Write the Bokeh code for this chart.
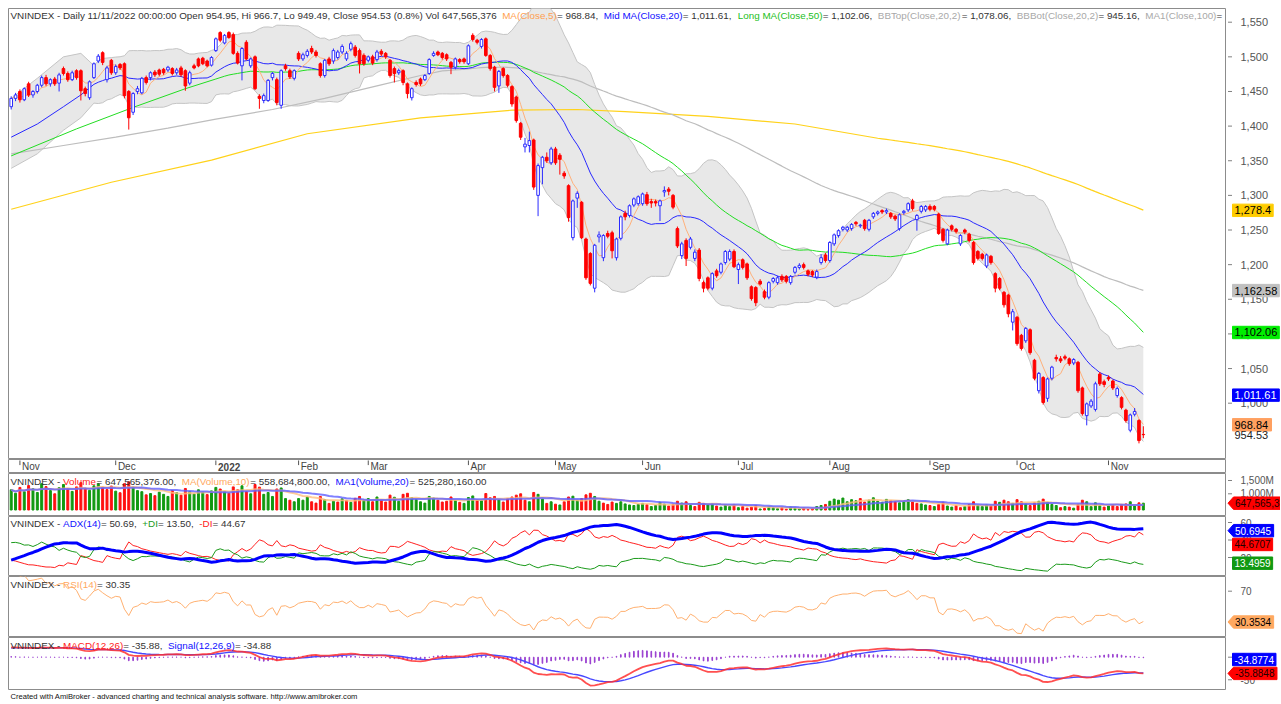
import numpy as np
import pandas as pd
from bokeh.plotting import figure
from bokeh.models import Range1d, Label
from bokeh.layouts import column, row
from bokeh.embed import file_html
from bokeh.resources import INLINE
from bokeh.core.properties import value

FONT = "Liberation Sans"

# ---------------- data ----------------
holidays = ["2022-01-03", "2022-01-31", "2022-02-01", "2022-02-02", "2022-02-03",
            "2022-02-04", "2022-04-11", "2022-05-02", "2022-05-03", "2022-09-01", "2022-09-02"]

opens = [1428,1440,1450,1438,1461,1445,1450,1459,1470,1461,1468,1462,1483,1476,1467,1480,1480,1454,1441,1470,
         1494,1506,1467,1495,1477,1489,1490,1450,1420,1450,1448,1470,1470,1478,1481,1482,1481,1483,1477,1484,
         1480,1462,1487,1497,1498,1494,1488,1509,1535,1520,1535,1532,1505,1487,1521,1487,1500,1443,1437,1437,
         1470,1467,1430,1487,1480,1469,1505,1497,1502,1512,1507,1490,1473,1497,1494,1499,1507,1497,1511,1514,
         1509,1502,1495,1500,1496,1508,1505,1495,1483,1477,1480,1461,1441,1463,1468,1467,1476,1502,1507,1505,
         1503,1492,1485,1496,1497,1490,1531,1524,1515,1526,1502,1485,1458,1483,1473,1457,1442,1404,1370,1372,
         1380,1300,1340,1355,1347,1367,1358,1332,1314,1239,1296,1290,1237,1216,1166,1240,1210,1245,1246,1210,
         1238,1274,1271,1286,1288,1288,1301,1291,1291,1285,1305,1309,1300,1252,1213,1235,1225,1209,1221,1174,
         1181,1166,1191,1189,1203,1208,1219,1193,1207,1201,1168,1167,1176,1161,1153,1176,1174,1183,1183,1174,
         1189,1196,1200,1191,1190,1182,1203,1214,1206,1230,1242,1251,1250,1252,1261,1256,1264,1251,1269,1274,
         1278,1276,1274,1270,1252,1275,1279,1292,1265,1277,1279,1284,1284,1273,1251,1230,1256,1251,1230,1250,
         1244,1232,1219,1215,1198,1212,1187,1180,1160,1156,1117,1124,1098,1090,1106,1062,1018,1037,1007,1036,
         1066,1064,1067,1064,1058,1059,1022,982,996,991,1042,1031,1037,1032,1011,1008,990,961,984,975,954.95]
highs = [1443,1448,1453,1456,1464,1452,1461,1473,1474,1469,1471,1477,1486,1479,1480,1482,1482,1457,1466,1492,
         1504,1508,1487,1497,1489,1491,1492,1452,1449,1458,1471,1473,1479,1481,1483,1484,1487,1485,1484,1487,
         1482,1480,1490,1499,1500,1496,1501,1528,1537,1533,1537,1535,1508,1514,1524,1499,1502,1446,1447,1468,
         1478,1470,1482,1490,1483,1482,1508,1506,1511,1516,1510,1492,1497,1500,1512,1510,1518,1508,1522,1517,
         1512,1505,1502,1503,1510,1511,1507,1497,1486,1483,1482,1463,1456,1466,1470,1475,1498,1508,1509,1507,
         1505,1494,1499,1498,1499,1518,1534,1526,1527,1528,1504,1487,1481,1485,1475,1459,1444,1406,1383,1392,
         1382,1346,1357,1362,1370,1370,1361,1335,1316,1294,1306,1292,1239,1218,1230,1248,1244,1249,1249,1239,
         1271,1278,1287,1297,1300,1304,1305,1295,1294,1294,1313,1312,1302,1255,1233,1238,1240,1222,1224,1177,
         1183,1189,1194,1203,1221,1222,1222,1203,1209,1203,1170,1169,1179,1164,1176,1182,1184,1186,1185,1185,
         1198,1202,1203,1193,1192,1193,1215,1217,1234,1245,1251,1256,1256,1260,1263,1259,1266,1266,1276,1278,
         1280,1281,1276,1272,1274,1279,1290,1295,1273,1286,1286,1287,1286,1275,1253,1252,1258,1253,1244,1252,
         1246,1234,1221,1217,1216,1214,1189,1182,1162,1158,1136,1126,1100,1110,1108,1064,1045,1039,1037,1054,
         1070,1068,1070,1066,1065,1061,1024,1001,1006,1031,1045,1034,1040,1034,1024,1010,992,985,993,977,966.7]
lows = [1424,1436,1434,1436,1442,1441,1447,1456,1458,1457,1458,1450,1473,1464,1465,1467,1437,1443,1438,1468,
        1491,1488,1463,1474,1474,1481,1440,1395,1416,1446,1446,1460,1466,1471,1472,1474,1478,1473,1474,1471,
        1451,1459,1482,1485,1488,1485,1486,1507,1521,1518,1526,1503,1489,1466,1495,1484,1452,1425,1433,1435,
        1466,1430,1425,1480,1468,1466,1494,1494,1499,1504,1499,1470,1470,1487,1490,1496,1504,1494,1508,1499,
        1476,1487,1492,1488,1493,1501,1497,1470,1463,1474,1459,1440,1437,1457,1458,1465,1474,1500,1501,1496,
        1494,1475,1482,1490,1490,1488,1522,1518,1512,1500,1480,1450,1448,1470,1456,1428,1405,1380,1362,1362,
        1308,1270,1316,1347,1344,1344,1330,1324,1262,1235,1282,1237,1178,1170,1160,1232,1205,1238,1209,1206,
        1235,1264,1268,1283,1285,1285,1285,1282,1284,1263,1298,1300,1280,1224,1208,1198,1222,1205,1176,1160,
        1163,1163,1181,1186,1200,1205,1195,1172,1193,1178,1148,1140,1170,1150,1150,1173,1171,1175,1173,1171,
        1186,1193,1193,1183,1182,1179,1200,1203,1203,1227,1239,1248,1247,1249,1256,1253,1249,1248,1266,1271,
        1273,1273,1266,1263,1249,1272,1276,1278,1249,1274,1276,1277,1277,1243,1232,1228,1248,1245,1227,1244,
        1232,1200,1206,1206,1195,1200,1160,1163,1138,1124,1105,1083,1076,1087,1070,1033,1014,998,1002,1033,
        1060,1058,1062,1054,1055,1015,982,968,993,988,1025,1023,1032,1019,1008,991,972,958,981,942,949.49]
closes = [1440,1445,1438,1454,1445,1450,1459,1470,1461,1467,1461,1474,1476,1467,1477,1470,1451,1447,1464,1490,
          1501,1492,1484,1477,1486,1484,1444,1412,1447,1454,1469,1463,1477,1474,1475,1477,1485,1476,1481,1474,
          1458,1477,1484,1487,1490,1487,1499,1526,1524,1531,1528,1505,1491,1512,1497,1497,1454,1440,1444,1466,
          1476,1434,1480,1483,1471,1480,1497,1503,1508,1507,1502,1473,1495,1490,1509,1507,1515,1505,1519,1502,
          1490,1490,1500,1491,1507,1504,1500,1473,1476,1480,1463,1447,1454,1460,1461,1473,1496,1505,1503,1499,
          1497,1485,1497,1493,1493,1516,1525,1521,1525,1502,1483,1456,1479,1473,1459,1432,1408,1384,1374,1379,
          1312,1343,1355,1350,1367,1347,1352,1328,1268,1292,1303,1239,1181,1173,1228,1243,1242,1241,1220,1237,
          1269,1269,1285,1295,1298,1302,1288,1289,1289,1292,1307,1306,1283,1227,1230,1209,1237,1218,1180,1166,
          1166,1187,1184,1201,1219,1219,1197,1200,1196,1181,1151,1145,1172,1153,1174,1180,1181,1178,1176,1183,
          1196,1199,1196,1186,1185,1190,1210,1206,1232,1243,1249,1254,1254,1258,1259,1257,1252,1264,1274,1276,
          1276,1278,1269,1266,1272,1277,1288,1281,1271,1284,1284,1280,1280,1245,1235,1250,1251,1248,1242,1247,
          1235,1203,1209,1209,1214,1203,1166,1166,1142,1129,1132,1086,1079,1108,1073,1036,1043,1001,1035,1052,
          1064,1061,1065,1057,1063,1018,985,999,1003,1028,1028,1027,1035,1022,1021,994,975,983,988,946,954.53]
volumes_m = [1150,1020,1240,1080,1310,1190,1050,1380,1270,1120,1000,1230,1350,1180,1090,1260,1420,1210,1130,1300,
             1380,1250,1160,1290,1100,1040,1380,1450,1250,1120,1080,960,1010,930,1060,980,900,1120,1040,950,
             1200,1080,990,1150,1060,970,1110,1240,1180,1090,1020,1260,1150,1300,1080,1000,1350,1250,980,1050,
             900,1180,1220,820,760,700,820,760,880,700,650,900,780,640,720,690,810,750,680,830,
             900,760,820,700,880,760,690,950,870,720,980,1020,860,780,700,650,900,840,760,690,
             720,880,750,680,640,860,920,780,740,1010,850,900,770,690,820,880,950,1000,760,700,
             1050,980,800,640,700,610,580,700,880,910,760,820,960,1020,900,720,650,600,690,640,
             700,620,580,560,600,640,590,520,560,680,610,540,600,720,650,700,560,520,680,640,
             590,620,540,500,560,520,600,480,520,460,500,560,430,450,520,470,440,480,420,500,
             460,430,470,410,450,520,560,600,720,800,760,840,700,780,740,820,690,760,850,720,
             680,790,740,700,660,720,780,690,640,620,580,560,520,600,680,540,500,560,480,520,
             600,700,560,520,580,540,720,680,760,700,640,780,700,620,560,660,720,800,680,600,
             560,480,520,500,460,600,760,700,520,660,560,500,540,580,520,600,620,700,540,660,647.565376]

ma20_early_idx = [0, 6, 12, 16]
ma20_early = [1384, 1403, 1428, 1445]
bbtop_early = [1440, 1469, 1500, 1505]
bbbot_early = [1339, 1360, 1394, 1412]
ma50_early_idx = [0, 15, 28, 40, 47]
ma50_early = [1357, 1396, 1427, 1454, 1468]
ma100_early_idx = [0, 12, 24, 36, 47, 60, 72, 84, 94]
ma100_early = [1360, 1372, 1384, 1397, 1410, 1424, 1440, 1458, 1473]
ma200_early_idx = [0, 23, 46, 68, 94, 115, 130, 141, 160, 180]
ma200_early = [1280, 1319, 1351, 1389, 1412, 1423, 1424, 1421, 1414, 1403]
# indicator state at the first bar
adx_start = {"atr": 14.0, "pdi": 37.0, "ndi": 17.0, "adx": 17.0}
rsi_start = {"gain": 7.5, "loss": 0.4}
macd_start = {"ema12": 1422.0, "ema26": 1400.0, "signal": 20.0}

price_ticks = [1000, 1050, 1100, 1150, 1200, 1250, 1300, 1350, 1400, 1450, 1500, 1550]
month_names = {1: "2022", 2: "Feb", 3: "Mar", 4: "Apr", 5: "May", 6: "Jun", 7: "Jul",
               8: "Aug", 9: "Sep", 10: "Oct", 11: "Nov", 12: "Dec"}

# ---------------- derived series ----------------
dates = pd.bdate_range("2021-10-28", "2022-11-11")
dates = dates[~dates.isin(pd.to_datetime(holidays))]
n = len(closes)
idx = np.arange(n)
O = np.array(opens, float); H = np.array(highs, float)
L = np.array(lows, float); C = np.array(closes, float)
V = np.array(volumes_m, float) * 1e6
cs = pd.Series(C)

ma5 = cs.rolling(5, min_periods=1).mean().values
ma20c = cs.rolling(20).mean().values
sd20 = cs.rolling(20).std(ddof=0).values


def hybrid(early_idx, early_vals, window):
    comp = cs.rolling(window).mean().values
    xs = list(early_idx) + list(range(window - 1, n))
    ys = list(early_vals) + list(comp[window - 1:])
    return xs, ys


ma20_x, ma20_y = hybrid(ma20_early_idx, ma20_early, 20)
bb_x = list(ma20_early_idx) + list(range(19, n))
bbt_y = list(bbtop_early) + list((ma20c + 2 * sd20)[19:])
bbb_y = list(bbbot_early) + list((ma20c - 2 * sd20)[19:])
ma50_x, ma50_y = hybrid(ma50_early_idx, ma50_early, 50)
ma100_x, ma100_y = hybrid(ma100_early_idx, ma100_early, 100)
ma200_x, ma200_y = hybrid(ma200_early_idx, ma200_early, 200)

vs = pd.Series(V)
vma10 = vs.rolling(10, min_periods=1).mean().values
vma20 = vs.rolling(20, min_periods=1).mean().values
prevc = np.concatenate([[O[0]], C[:-1]])
vol_up = C >= prevc

# Wilder ADX / DI, seeded with the state read at the first bar
k = 1.0 / 14
atr = adx_start["atr"]
spdm = adx_start["pdi"] / 100 * atr
sndm = adx_start["ndi"] / 100 * atr
ax_ = adx_start["adx"]
pdi = np.zeros(n); ndi = np.zeros(n); adx = np.zeros(n)
for t in range(n):
    if t > 0:
        trv = max(H[t] - L[t], abs(H[t] - C[t - 1]), abs(L[t] - C[t - 1]))
        um, dm = H[t] - H[t - 1], L[t - 1] - L[t]
        pv = um if (um > dm and um > 0) else 0.0
        nv = dm if (dm > um and dm > 0) else 0.0
        atr += k * (trv - atr); spdm += k * (pv - spdm); sndm += k * (nv - sndm)
    pdi[t] = 100 * spdm / atr
    ndi[t] = 100 * sndm / atr
    dxv = 100 * abs(pdi[t] - ndi[t]) / max(pdi[t] + ndi[t], 1e-9)
    if t > 0:
        ax_ += k * (dxv - ax_)
    adx[t] = ax_

# Wilder RSI, seeded
ag, al = rsi_start["gain"], rsi_start["loss"]
rsi = np.zeros(n)
for t in range(n):
    if t > 0:
        ch = C[t] - C[t - 1]
        ag += k * (max(ch, 0) - ag); al += k * (max(-ch, 0) - al)
    rsi[t] = 100 - 100 / (1 + ag / al)

# MACD, seeded
e12, e26, sg = macd_start["ema12"], macd_start["ema26"], macd_start["signal"]
macd = np.zeros(n); sig = np.zeros(n)
for t in range(n):
    e12 += 2 / 13 * (C[t] - e12); e26 += 2 / 27 * (C[t] - e26)
    m = e12 - e26
    sg += 0.2 * (m - sg)
    macd[t], sig[t] = m, sg
hist = macd - sig

# ---------------- layout ----------------
FW = 1218          # plot frame width (x 8 .. 1226)
SW = 54            # right value strip (x 1226 .. 1280)
X0, X1 = -0.62, 279.1
xr = Range1d(X0, X1)
FS = 9.86

AW = {' ': 278, '(': 333, ')': 333, ',': 278, '-': 333, '.': 278, '/': 278, ':': 278, '=': 584,
      '+': 584, '%': 889, 'A': 667, 'B': 667, 'C': 722, 'D': 722, 'E': 667, 'F': 611, 'G': 778,
      'H': 722, 'I': 278, 'L': 556, 'M': 833, 'N': 722, 'O': 778, 'P': 667, 'R': 722, 'S': 667,
      'T': 611, 'V': 667, 'X': 667, 'a': 556, 'b': 556, 'c': 500, 'd': 556, 'e': 556, 'f': 278,
      'g': 556, 'h': 556, 'i': 222, 'k': 500, 'l': 222, 'm': 833, 'n': 556, 'o': 556, 'p': 556,
      'r': 333, 's': 500, 't': 278, 'u': 556, 'v': 500, 'w': 722, 'y': 500}
for ch in "0123456789":
    AW[ch] = 556


def tw(s, fs):
    return sum(AW.get(ch, 556) for ch in s) * fs / 1000.0


def px2x(px):
    return X0 + (px - 8) / FW * (X1 - X0)


PANES = {}


def make_row(key, top, height, ylo, yhi, first=False):
    yr = Range1d(ylo, yhi)
    common = dict(output_backend="svg", toolbar_location=None, x_axis_location=None,
                  y_axis_location=None, min_border_right=0, min_border_top=8 if first else 0,
                  min_border_bottom=0, background_fill_color="white", border_fill_color="white")
    p = figure(frame_width=FW, frame_height=height, x_range=xr, y_range=yr,
               min_border_left=8, **common)
    p.grid.visible = False
    p.outline_line_color = "#8c8c8c"
    s = figure(frame_width=SW, frame_height=height, x_range=Range1d(0, SW), y_range=yr,
               min_border_left=0, **common)
    s.grid.visible = False
    s.outline_line_color = None
    PANES[key] = (top, height, ylo, yhi)
    return p, s


def ypx(key, py):
    top, h, ylo, yhi = PANES[key]
    return yhi - (py - top) / h * (yhi - ylo)


def upp(key):
    top, h, ylo, yhi = PANES[key]
    return (yhi - ylo) / h


def run_text(p, key, segs, px, py, fs=FS):
    x = px
    for s_, col in segs:
        p.add_layout(Label(x=px2x(x), y=ypx(key, py), text=s_, text_color=col, text_font=FONT,
                           text_font_size=f"{fs}px", text_baseline="middle", text_align="left"))
        x += tw(s_, fs)


def axis_ticks(s, key, ticks, labels, fs):
    s.segment(x0=[1.5] * len(ticks), y0=ticks, x1=[5.5] * len(ticks), y1=ticks,
              line_color="#808080", line_width=1)
    s.text(x=[14] * len(ticks), y=ticks, text=labels, text_font=value(FONT),
           text_font_size=f"{fs}px", text_color="#555555", text_baseline="middle", text_align="left")


def vbox(s, key, yv, txt, bg, fg, fs, arrow=False, minw=0):
    u = upp(key)
    w = max(tw(txt, fs) + 4, minw)
    hh = 6.2 * u
    if arrow:
        s.patch(x=[1.5, 7, 7 + w, 7 + w, 7], y=[yv, yv + hh, yv + hh, yv - hh, yv - hh],
                fill_color=bg, line_color=bg)
        tx = 8.5
    else:
        s.quad(left=[6], right=[6 + w], top=[yv + hh], bottom=[yv - hh], fill_color=bg, line_color=bg)
        tx = 8
    s.text(x=[tx], y=[yv], text=[txt], text_font=value(FONT), text_font_size=f"{fs}px",
           text_color=fg, text_baseline="middle", text_align="left")


DK = "#333333"
ORG = "#ff9f50"
BLU = "#1010ff"
GRN = "#22c022"
GRY = "#a8a8a8"

# ---------- price pane ----------
PT, PH = 8, 451
pylo = 1550 - (PT + PH - 21.7) / 0.6927
pyhi = 1550 + (21.7 - PT) / 0.6927
pp, ps = make_row("p", PT, PH, pylo, pyhi, first=True)

pp.varea(x=bb_x, y1=bbb_y, y2=bbt_y, fill_color="#e8e8e8", fill_alpha=1)
pp.line(bb_x, bbt_y, line_color="#c4c4c4", line_width=1)
pp.line(bb_x, bbb_y, line_color="#c4c4c4", line_width=1)
pp.line(ma200_x, ma200_y, line_color="#ffd21a", line_width=1.2)
pp.line(ma100_x, ma100_y, line_color="#bdbdbd", line_width=1.2)
pp.line(ma50_x, ma50_y, line_color="#22dd22", line_width=1)
pp.line(ma20_x, ma20_y, line_color="#2828ff", line_width=1)
pp.line(idx, ma5, line_color="#ffb07a", line_width=1)

up = C >= O
dn = ~up
pp.segment(idx[up], H[up], idx[up], L[up], line_color="#2b2bff", line_width=1)
pp.segment(idx[dn], H[dn], idx[dn], L[dn], line_color="#ff0000", line_width=1)
pp.vbar(x=idx[up], bottom=O[up], top=C[up], width=0.6, fill_color="white",
        line_color="#2b2bff", line_width=1)
pp.vbar(x=idx[dn], bottom=C[dn], top=O[dn], width=0.6, fill_color="#ff0000",
        line_color="#ff0000", line_width=1)

run_text(pp, "p", [("VNINDEX - Daily 11/11/2022 00:00:00 Open 954.95, Hi 966.7, Lo 949.49, Close 954.53 (0.8%) Vol 647,565,376 ", DK),
                   ("MA(Close,5)", ORG), (" = 968.84, ", DK),
                   ("Mid MA(Close,20)", BLU), (" = 1,011.61, ", DK),
                   ("Long MA(Close,50)", GRN), (" = 1,102.06, ", DK),
                   ("BBTop(Close,20,2)", GRY), (" = 1,078.06, ", DK),
                   ("BBBot(Close,20,2)", GRY), (" = 945.16, ", DK),
                   ("MA1(Close,100)", GRY), (" =", DK)], 10, 15)

axis_ticks(ps, "p", price_ticks, [f"{t:,}" for t in price_ticks], 11)
vbox(ps, "p", 1278.4, "1,278.4", "#ffcc00", "black", 11, minw=39)
vbox(ps, "p", 1162.58, "1,162.58", "#c0c0c0", "black", 11, minw=39)
vbox(ps, "p", 1102.06, "1,102.06", "#00ee00", "black", 11, minw=39)
vbox(ps, "p", 1011.61, "1,011.61", "#0000ff", "white", 11, minw=39)
vbox(ps, "p", 968.84, "968.84", "#ffa060", "black", 11, minw=39)
ps.text(x=[8], y=[954.53], text=["954.53"], text_font=value(FONT), text_font_size="11px",
        text_color="#222222", text_baseline="middle", text_align="left")

# ---------- date strip ----------
ST, SH = PT + PH, 14
dp, dsd = make_row("s", ST, SH, 0, 1)
mi = [i for i in range(1, n) if dates[i].month != dates[i - 1].month]
mlab = [month_names[dates[i].month] for i in mi]
mstyle = ["bold" if dates[i].month == 1 else "normal" for i in mi]
dp.segment(x0=mi, y0=[0.93] * len(mi), x1=mi, y1=[0.6] * len(mi), line_color="#555555", line_width=1)
dp.text(x=[i + 0.5 for i in mi], y=[0.47] * len(mi), text=mlab, text_font=value(FONT),
        text_font_size="10px", text_color="#444444", text_baseline="middle", text_align="left",
        text_font_style=mstyle)

# ---------- volume ----------
VT, VH = ST + SH, 43
vol_lo, vol_hi, vol_base = 147e6, 1763e6, 391e6
vp, vsd = make_row("v", VT, VH, vol_lo, vol_hi)
vtop = np.maximum(V, vol_base)
vp.vbar(x=idx[vol_up], top=vtop[vol_up], bottom=vol_base, width=0.45, fill_color="#119911", line_color="#119911")
vp.vbar(x=idx[~vol_up], top=vtop[~vol_up], bottom=vol_base, width=0.45, fill_color="#ff1010", line_color="#ff1010")
vp.line(idx, vma10, line_color="#ffbf80", line_width=2, line_alpha=0.8)
vp.line(idx, vma20, line_color="#6060ff", line_width=2, line_alpha=0.8)
run_text(vp, "v", [("VNINDEX - ", DK), ("Volume", "#ff2020"), (" = 647,565,376.00, ", DK),
                   ("MA(Volume,10)", "#ffa860"), (" = 558,684,800.00, ", DK),
                   ("MA1(Volume,20)", BLU), (" = 525,280,160.00", DK)], 10, VT + 8)
axis_ticks(vsd, "v", [1.0e9, 1.5e9], ["1,000M", "1,500M"], 10)
vbox(vsd, "v", 647.565376e6, "647,565,3", "#ff0000", "#220000", 10, arrow=True)

# ---------- ADX ----------
AT, AH = VT + VH, 60
aylo, ayhi = -1.71, 66.86
ap, asd = make_row("a", AT, AH, aylo, ayhi)
ap.line(idx, ndi, line_color="#ff2020", line_width=1)
ap.line(idx, pdi, line_color="#1a9a1a", line_width=1)
ap.line(idx, adx, line_color="#0000ff", line_width=3)
run_text(ap, "a", [("VNINDEX - ", DK), ("ADX(14)", BLU), (" = 50.69, ", DK), ("+DI", "#1a9a1a"),
                   (" = 13.50, ", DK), ("-DI", "#ff2020"), (" = 44.67", DK)], 10, AT + 7)
axis_ticks(asd, "a", [20, 40, 60], ["20", "40", "60"], 10)
vbox(asd, "a", 50.69, "50.6945", "#0000ff", "white", 10, arrow=True)
vbox(asd, "a", 34.9, "44.6707", "#ff0000", "#220000", 10)
vbox(asd, "a", 13.5, "13.4959", "#119911", "white", 10)

# ---------- RSI ----------
RT, RH = AT + AH, 61
rylo, ryhi = 10.4, 88.9
rp, rsd = make_row("r", RT, RH, rylo, ryhi)
rp.line(idx, rsi, line_color="#ffb070", line_width=1)
run_text(rp, "r", [("VNINDEX - ", DK), ("RSI(14)", "#ffa860"), (" = 30.35", DK)], 10, RT + 8)
axis_ticks(rsd, "r", [30, 70], ["30", "70"], 10)
vbox(rsd, "r", 30.35, "30.3534", "#ffa860", "black", 10, arrow=True)

# ---------- MACD ----------
MT, MH = RT + RH, 53
mylo, myhi = -73.7, 43.6
mp, msd = make_row("m", MT, MH, mylo, myhi)
mp.vbar(x=idx, top=hist, bottom=0, width=0.15, fill_color="#9a40d0", line_color="#9a40d0")
mp.line(idx, sig, line_color="#4848ff", line_width=1.4)
mp.line(idx, macd, line_color="#ff3030", line_width=1.8, line_alpha=0.85)
run_text(mp, "m", [("VNINDEX - ", DK), ("MACD(12,26)", "#ff2020"), (" = -35.88, ", DK),
                   ("Signal(12,26,9)", BLU), (" = -34.88", DK)], 10, MT + 8)
axis_ticks(msd, "m", [-50, 0], ["-50", "0"], 10)
vbox(msd, "m", -5.1, "-34.8774", "#0000ff", "white", 10)
vbox(msd, "m", -35.88, "-35.8848", "#ff0000", "#220000", 10, arrow=True)

# ---------- footer ----------
FH = 13
fp = figure(frame_width=FW + SW, frame_height=FH, x_range=Range1d(0, FW + SW), y_range=Range1d(0, 1),
            output_backend="svg", toolbar_location=None, x_axis_location=None, y_axis_location=None,
            min_border_left=8, min_border_right=0, min_border_top=0, min_border_bottom=0,
            background_fill_color="white", border_fill_color="white")
fp.grid.visible = False
fp.outline_line_color = None
foot = "Created with AmiBroker - advanced charting and technical analysis software. http://www.amibroker.com"
fp.text(x=[2], y=[0.55], text=[foot], text_font=value(FONT), text_font_size="7.6px",
        text_color="#111111", text_baseline="middle", text_align="left")

layout = column(row(pp, ps), row(dp, dsd), row(vp, vsd), row(ap, asd), row(rp, rsd),
                row(mp, msd), fp, spacing=0)
open("out.html", "w").write(file_html(layout, INLINE))
